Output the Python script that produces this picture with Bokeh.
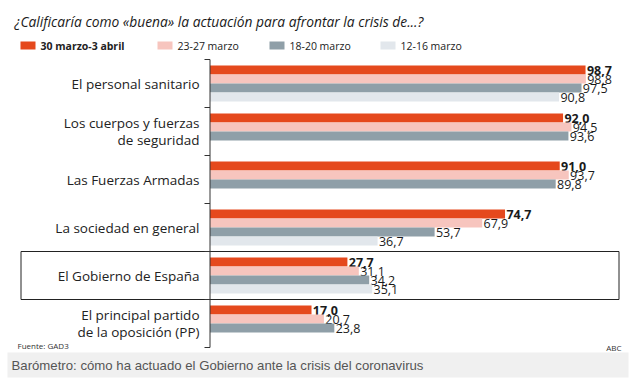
from bokeh.plotting import figure
from bokeh.models import Range1d, ColumnDataSource
from bokeh.core.properties import value
from bokeh.embed import file_html
from bokeh.resources import INLINE

# ---------------- data ----------------
categories = [
    "El personal sanitario",
    "Los cuerpos y fuerzas\nde seguridad",
    "Las Fuerzas Armadas",
    "La sociedad en general",
    "El Gobierno de España",
    "El principal partido\nde la oposición (PP)",
]
series_names = ["30 marzo-3 abril", "23-27 marzo", "18-20 marzo", "12-16 marzo"]
s_30mar_3abr = [98.7, 92.0, 91.0, 74.7, 27.7, 17.0]
s_23_27mar = [98.8, 94.5, 93.7, 67.9, 31.1, 20.7]
s_18_20mar = [97.5, 93.6, 89.8, 53.7, 34.2, 23.8]
s_12_16mar = [90.8, None, None, 36.7, 35.1, None]
highlight = "El Gobierno de España"

title_text = "¿Calificaría como «buena» la actuación para afrontar la crisis de...?"
source_text = "Fuente: GAD3"
brand_text = "ABC"
footer_text = "Barómetro: cómo ha actuado el Gobierno ante la crisis del coronavirus"

colors = ["#E5491D", "#F7C5BE", "#8F9FA8", "#E2E7EC"]

# ---------------- layout helpers ----------------
W, H = 629, 381
XZ, SX = 254.0, 3.354      # px of value 0, px per unit
YC, SY = 83.0, 48.0        # px of first group centre, px per group


def dx(px):
    return (px - XZ) / SX


def dy(py):
    return (py - YC) / SY


SANS = "Open Sans"

p = figure(width=W, height=H, output_backend="svg", toolbar_location=None,
           x_range=Range1d(dx(0), dx(W)), y_range=Range1d(dy(H), dy(0)),
           x_axis_location=None, y_axis_location=None, min_border=0)
p.outline_line_color = None
p.xgrid.visible = False
p.ygrid.visible = False
p.background_fill_color = "white"
p.border_fill_color = "white"

n = len(categories)
BASE = dx(209.5)
BH = 9.0 / SY

# highlight box
hi = categories.index(highlight)
p.quad(left=[dx(20.5)], right=[dx(618.5)], top=[hi - 0.5], bottom=[hi + 0.5],
       fill_color=None, line_color="#222222", line_width=1)

# bars
all_series = [s_30mar_3abr, s_23_27mar, s_18_20mar, s_12_16mar]
for j, vals in enumerate(all_series):
    ys, vs, labs = [], [], []
    for k, v in enumerate(vals):
        if v is None:
            continue
        ys.append(k + (j - 1.5) * BH)
        vs.append(v)
        labs.append(f"{v:.1f}".replace(".", ","))
    src = ColumnDataSource(dict(y=ys, v=vs, lab=labs, lx=[v + 0.4 for v in vs]))
    p.hbar(y="y", left=BASE, right="v", height=BH, source=src,
           fill_color=colors[j], line_color=None)
    p.text(x="lx", y="y", text="lab", source=src, text_font=value(SANS),
           text_font_size="12.5px", text_baseline="middle", text_align="left",
           text_color="#1a1a1a", text_font_style="bold" if j == 0 else "normal")

# value axis line and boundary ticks
p.segment(x0=[BASE], y0=[-0.5], x1=[BASE], y1=[n - 0.5],
          line_color="#333333", line_width=1)
tk = [k - 0.5 for k in range(n + 1)]
p.segment(x0=[dx(204)] * len(tk), y0=tk, x1=[BASE] * len(tk), y1=tk,
          line_color="#333333", line_width=1)

# category labels
p.text(x=[dx(199)] * n, y=list(range(n)), text=categories, text_font=value(SANS),
       text_font_size="13.5px", text_align="right", text_baseline="middle",
       text_color="#222222", text_line_height=0.92)

# title
p.text(x=[dx(14)], y=[dy(21)], text=[title_text], text_font=value(SANS),
       text_font_size="13.8px", text_font_style="italic", text_baseline="middle",
       text_color="#1a1a1a")

# legend
leg_x = [20, 157, 269, 380]
for j, name in enumerate(series_names):
    p.quad(left=[dx(leg_x[j])], right=[dx(leg_x[j] + 15)], top=[dy(41)], bottom=[dy(49)],
           fill_color=colors[j], line_color=None)
    p.text(x=[dx(leg_x[j] + 20)], y=[dy(45)], text=[name], text_font=value(SANS),
           text_font_size="10.5px", text_baseline="middle", text_color="#222222",
           text_font_style="bold" if j == 0 else "normal")

# source / brand
p.text(x=[dx(17)], y=[dy(345)], text=[source_text], text_font=value(SANS),
       text_font_size="8px", text_baseline="middle", text_color="#333333")
p.text(x=[dx(621)], y=[dy(347)], text=[brand_text], text_font=value(SANS),
       text_font_size="8px", text_baseline="middle", text_align="right",
       text_color="#333333")

# footer band
p.quad(left=[dx(7)], right=[dx(628)], top=[dy(352)], bottom=[dy(377)],
       fill_color="#F0F0F0", line_color=None)
p.text(x=[dx(11)], y=[dy(364.5)], text=[footer_text], text_font=value("Liberation Sans"),
       text_font_size="13.2px", text_baseline="middle", text_color="#555555")

open("out.html", "w").write(file_html(p, INLINE))
